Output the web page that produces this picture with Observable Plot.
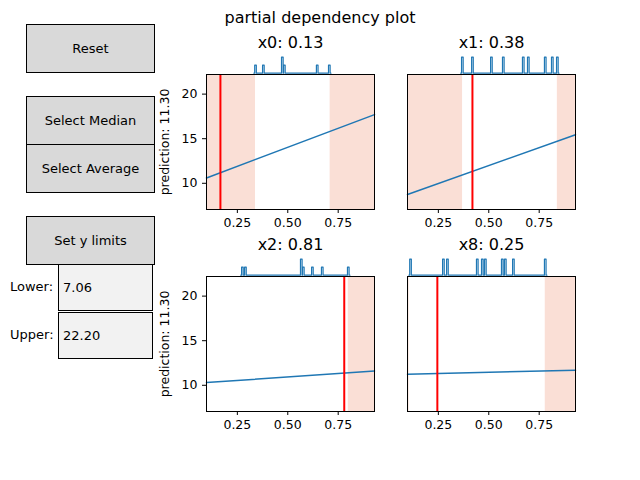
<!DOCTYPE html>
<html><head><meta charset="utf-8">
<script src="https://cdn.jsdelivr.net/npm/d3@7"></script>
<script src="https://cdn.jsdelivr.net/npm/@observablehq/plot@0.6"></script>
<style>
body{margin:0;width:640px;height:480px;position:relative;font-family:"DejaVu Sans",sans-serif;background:#fff;overflow:hidden}
.btn{position:absolute;left:26px;width:127px;background:#d9d9d9;border:1px solid #000;display:flex;align-items:center;justify-content:center;font-size:13px}
.box{position:absolute;left:58px;width:95px;height:47px;background:#f2f2f2;border:1px solid #000;display:flex;align-items:center;padding-left:4px;box-sizing:border-box;font-size:13px}
.lab{position:absolute;left:10px;font-size:13px}
</style></head><body>
<div style="position:absolute;top:8px;left:0;width:640px;text-align:center;font-size:16px">partial dependency plot</div>
<div class="btn" style="top:24px;height:47px">Reset</div>
<div class="btn" style="top:96px;height:47px">Select Median</div>
<div class="btn" style="top:144px;height:47px">Select Average</div>
<div class="btn" style="top:216px;height:47px">Set y limits</div>
<div class="box" style="top:264px">7.06</div>
<div class="box" style="top:312px">22.20</div>
<div class="lab" style="top:279px">Lower:</div>
<div class="lab" style="top:327px">Upper:</div>
<div id="c"></div>
<script>
const titles = ["x0: 0.13","x1: 0.38","x2: 0.81","x8: 0.25"];
const redX = [0.166, 0.419, 0.78, 0.245];
const lineStart = [10.6, 8.75, 10.3, 11.25];
const lineEnd = [17.7, 15.45, 11.6, 11.7];
const shadeLo = [[0.097,0.34],[0.097,0.37],null,[0.097,0.105]];
const shadeHi = [[0.71,0.93],[0.84,0.93],[0.80,0.93],[0.78,0.93]];
const rugX = [
  [0.340,0.379,0.473,0.483,0.646,0.706],
  [0.369,0.419,0.513,0.572,0.671,0.696,0.780,0.815,0.840],
  [0.275,0.290,0.567,0.577,0.622,0.671,0.800],
  [0.112,0.275,0.295,0.443,0.468,0.483,0.567,0.582,0.622,0.780]];
const rugC = [
  [1,1,2,1,1,1],
  [2,2,2,2,2,2,2,2,2],
  [1,1,2,1,1,1,1],
  [2,2,2,2,2,2,2,2,2,2]];
const yLabel = "prediction: 11.30";
const xDom=[0.097,0.93], yDom=[7.06,22.2];
const pos=[[156,30],[357,30],[156,232],[357,232]];
const c=document.getElementById("c");
for(let i=0;i<4;i++){
  const w=0.008, pts=[{x:rugX[i][0]-w,y:22.35}];
  rugX[i].forEach((x,j)=>{const h=22.35+rugC[i][j]*0.9;pts.push({x:x-w/2,y:22.35},{x:x-w/2,y:h},{x:x+w/2,y:h},{x:x+w/2,y:22.35});});
  pts.push({x:rugX[i][rugX[i].length-1]+w,y:22.35});
  const shades=[shadeLo[i],shadeHi[i]].filter(d=>d).map(d=>({x1:d[0],x2:d[1]}));
  const left=i%2===0;
  const plot=Plot.plot({width:228,height:209,marginLeft:50,marginRight:10,marginTop:44,marginBottom:30,
    style:{background:"transparent",overflow:"visible",fontSize:"12.5px",fontFamily:"DejaVu Sans"},
    x:{domain:xDom,axis:null},y:{domain:yDom,axis:null},
    marks:[
      Plot.rectX(shades,{x1:"x1",x2:"x2",y1:yDom[0],y2:yDom[1],fill:"#f9d9cf",fillOpacity:0.85}),
      Plot.line([{x:xDom[0],y:lineStart[i]},{x:xDom[1],y:lineEnd[i]}],{x:"x",y:"y",stroke:"#1f77b4",strokeWidth:1.5}),
      Plot.ruleX([redX[i]],{stroke:"red",strokeWidth:2}),
      Plot.line(pts,{x:"x",y:"y",stroke:"#1f77b4",strokeWidth:1.2}),
      Plot.frame({stroke:"#000"}),
      Plot.axisX({ticks:[0.25,0.5,0.75],tickFormat:".2f",label:null,tickSize:4,stroke:"#000",fill:"#000"}),
      left?Plot.axisY({ticks:[10,15,20],label:yLabel,labelArrow:"none",labelAnchor:"center",labelOffset:46,tickSize:4,fill:"#000"}):null,
      Plot.text([titles[i]],{frameAnchor:"top",dy:-38,fontSize:16,fill:"#000"})
    ]});
  plot.style.position="absolute";plot.style.left=pos[i][0]+"px";plot.style.top=pos[i][1]+"px";
  c.appendChild(plot);
}
</script></body></html>
